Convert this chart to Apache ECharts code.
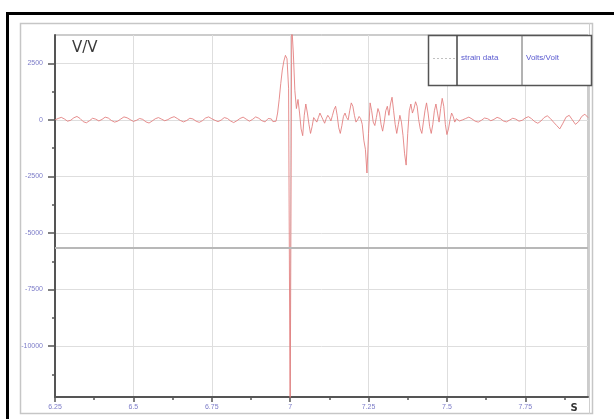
<!DOCTYPE html>
<html><head><meta charset="utf-8">
<script src="https://cdn.jsdelivr.net/npm/echarts@6/dist/echarts.min.js"></script>
<style>html,body{margin:0;padding:0;background:#fff}#c{width:614px;height:419px}</style>
</head><body><div id="c"></div>
<script>
// ---- data ----
const xTickLabels = [6.25, 6.5, 6.75, 7, 7.25, 7.5, 7.75];
const xMinorTicks = [6.375, 6.625, 6.875, 7.125, 7.375, 7.625, 7.875];
const yTickLabels = [-10000, -7500, -5000, -2500, 0, 2500];
const yMinorTicks = [-11250, -8750, -6250, -3750, -1250, 1250];
const xRange = [6.25, 7.95];
const yRange = [-12250, 3750];

const preStart = 6.25, preStep = 0.01;
const preValues = [0, 60, 110, 40, -60, -20, 90, 150, 60, -80,
  -130, -40, 70, 30, -50, 20, 120, 80, -30, -100,
  -60, 40, 130, 90, 10, -70, -20, 60, 20, -90,
  -140, -50, 50, 100, 30, -40, 10, 90, 140, 60,
  -30, -90, -30, 70, 40, -60, -110, -40, 80, 130,
  50, -20, -80, -10, 100, 60, -50, -120, -40, 60,
  120, 30, -60, 20, 130, 70, -40, -90, 60];

const eventStart = 6.94, eventStep = 0.005;
const eventValues = [
  40, -80, -150, -60, 300, 900, 1600, 2200, 2600, 2850,
  2700, 1400, -13500, 4200, 3000, 1300, 500, 900, 300, -400,
  -700, 200, 700, 300, -200, -600, -300, 100, 50, -100,
  100, 300, 250, 0, -150, 50, 200, 100, -50, 200,
  450, 600, 200, -350, -600, -250, 150, 300, 100, 0,
  400, 750, 600, 200, -100, 0, 150, 50, -200, -900,
  -1300, -2350, -600, 750, 400, -100, -250, 100, 500, 300,
  -200, -500, -100, 400, 600, 200, 700, 1000, 400, -200,
  -600, -200, 200, -100, -700, -1500, -2000, -600, 400, 700,
  300, 500, 800, 600, 0, -400, -600, -100, 400, 750,
  300, -300, -600, -200, 400, 700, 300, -100, 500, 950,
  600, -200, -650, -400, 0, 300, 150, -100, 50, 100,
  -50, -100, 0];

const postStart = 7.56, postStep = 0.01;
const postValues = [60, 120, 40, -60, -100, -20, 80, 50, -40, 20,
  110, 60, -50, -90, -10, 70, 30, -60, -20, 80,
  140, 50, -80, -150, -50, 100, 180, 60, -100, -250,
  -400, -150, 120, 200, 0, -200, -80, 150, 250, 100];

const cursorLevel = -5650;
const seriesName = 'strain data';
const unitName = 'Volts/Volt';
const yUnit = 'V/V';
const xUnit = 'S';

// ---- build ----
function seg(start, step, vals) {
  return vals.map((v, i) => [+(start + i * step).toFixed(4), v]);
}
const data = seg(preStart, preStep, preValues)
  .concat(seg(eventStart, eventStep, eventValues))
  .concat(seg(postStart, postStep, postValues));

const labelColor = '#7c7cc8';
const axisDark = '#555';
const chart = echarts.init(document.getElementById('c'), null, {renderer: 'canvas'});
chart.setOption({
  animation: false,
  backgroundColor: '#fff',
  grid: {left: 55, top: 35, right: 26, bottom: 22, show: true, borderColor: '#999', borderWidth: 1, backgroundColor: 'transparent'},
  xAxis: [{
    type: 'value', min: xRange[0], max: xRange[1], position: 'bottom',
    axisLine: {show: true, onZero: false, lineStyle: {color: axisDark, width: 2}},
    axisTick: {show: true, customValues: xTickLabels, length: 5, lineStyle: {color: axisDark, width: 1.5}},
    axisLabel: {customValues: xTickLabels, color: labelColor, fontSize: 7, margin: 7, fontFamily: 'Liberation Sans', formatter: v => String(v)},
    splitLine: {show: true, lineStyle: {color: '#dedede', width: 1}}
  }, {
    type: 'value', min: xRange[0], max: xRange[1], position: 'bottom',
    axisLine: {show: false, onZero: false},
    axisTick: {show: true, customValues: xMinorTicks, length: 3, lineStyle: {color: axisDark, width: 1.5}},
    axisLabel: {show: false},
    splitLine: {show: false}
  }],
  yAxis: [{
    type: 'value', min: yRange[0], max: yRange[1], position: 'left',
    axisLine: {show: true, onZero: false, lineStyle: {color: axisDark, width: 2}},
    axisTick: {show: true, customValues: yTickLabels, length: 7, lineStyle: {color: axisDark, width: 1.5}},
    axisLabel: {customValues: yTickLabels, color: labelColor, fontSize: 7, margin: 12, fontFamily: 'Liberation Sans', formatter: v => String(v)},
    splitLine: {show: true, lineStyle: {color: '#dedede', width: 1}}
  }, {
    type: 'value', min: yRange[0], max: yRange[1], position: 'left',
    axisLine: {show: false, onZero: false},
    axisTick: {show: true, customValues: yMinorTicks, length: 3, lineStyle: {color: axisDark, width: 1.5}},
    axisLabel: {show: false},
    splitLine: {show: false}
  }],
  series: [{
    name: seriesName, type: 'line', data: data, showSymbol: false, clip: true,
    xAxisIndex: 0, yAxisIndex: 0,
    lineStyle: {color: '#e27a7a', width: 1, opacity: 0.85},
    markLine: {
      silent: true, symbol: ['none', 'none'], label: {show: false},
      lineStyle: {color: '#b8b8b8', width: 2, type: 'solid'},
      data: [{yAxis: cursorLevel}]
    }
  }],
  graphic: [
    {type: 'rect', z: 1, shape: {x: 20.5, y: 23.5, width: 572, height: 390}, style: {fill: null, stroke: '#c6c6c6', lineWidth: 1.5}},
    {type: 'line', z: 1, shape: {x1: 589.5, y1: 23, x2: 589.5, y2: 414}, style: {stroke: '#cfcfcf', lineWidth: 1}},
    {type: 'line', z: 200, shape: {x1: 6, y1: 13.5, x2: 614, y2: 13.5}, style: {stroke: '#000', lineWidth: 3}},
    {type: 'line', z: 200, shape: {x1: 7.5, y1: 12, x2: 7.5, y2: 419}, style: {stroke: '#000', lineWidth: 3}},
    {type: 'rect', z: 100, shape: {x: 428.5, y: 35.5, width: 163, height: 50}, style: {fill: '#fff', stroke: '#555', lineWidth: 1.5}},
    {type: 'line', z: 101, shape: {x1: 457, y1: 35.5, x2: 457, y2: 85.5}, style: {stroke: '#444', lineWidth: 1.5}},
    {type: 'line', z: 101, shape: {x1: 522, y1: 35.5, x2: 522, y2: 85.5}, style: {stroke: '#666', lineWidth: 1}},
    {type: 'line', z: 101, shape: {x1: 433, y1: 58.5, x2: 455, y2: 58.5}, style: {stroke: '#c0c0c0', lineWidth: 1, lineDash: [2, 2]}},
    {type: 'text', z: 101, x: 461, y: 58, style: {text: seriesName, fill: '#5a5ad0', fontSize: 8, fontFamily: 'Liberation Sans', verticalAlign: 'middle'}},
    {type: 'text', z: 101, x: 526, y: 58, style: {text: unitName, fill: '#5a5ad0', fontSize: 8, fontFamily: 'Liberation Sans', verticalAlign: 'middle'}},
    {type: 'text', z: 101, x: 72, y: 48, style: {text: yUnit, fill: '#3a3a3a', fontSize: 15, fontFamily: 'DejaVu Sans', verticalAlign: 'middle'}},
    {type: 'text', z: 101, x: 574, y: 408, style: {text: xUnit, fill: '#333', fontSize: 10, fontWeight: 'bold', fontFamily: 'DejaVu Sans', align: 'center', verticalAlign: 'middle'}}
  ]
});
</script></body></html>
